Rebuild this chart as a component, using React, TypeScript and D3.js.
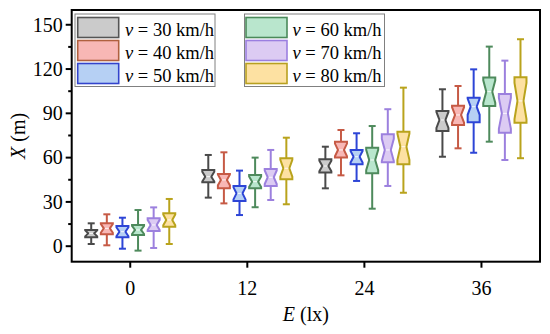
import React from 'react'
import * as d3 from 'd3'

// illuminance levels on the x axis
const illuminance = [0, 12, 24, 36]
const speeds = [30, 40, 50, 60, 70, 80]

// [lower whisker, q1, median, q3, upper whisker] for E = 0, 12, 24, 36
const v30 = [[1.5, 6.0, 8.7, 11.0, 15.5], [32.9, 43.3, 47.1, 51.6, 61.8], [39.2, 50.0, 54.3, 58.9, 67.4], [60.6, 78.0, 85.5, 91.6, 106.3]]
const v40 = [[0.6, 8.1, 12.1, 15.5, 21.6], [29.0, 39.2, 44.9, 48.9, 63.6], [48.0, 60.0, 65.2, 70.8, 78.7], [66.3, 82.1, 88.9, 95.2, 108.5]]
const v50 = [[-1.7, 6.0, 9.8, 13.7, 19.3], [21.1, 30.6, 35.8, 40.8, 51.2], [44.2, 55.5, 60.6, 65.2, 76.5], [63.3, 83.9, 94.5, 100.6, 119.8]]
const v60 = [[-3.0, 7.6, 11.0, 14.4, 24.5], [26.4, 39.2, 43.7, 48.2, 60.0], [25.4, 49.4, 58.4, 66.7, 81.4], [70.8, 95.0, 104.7, 114.2, 135.2]]
const v70 = [[-1.2, 10.3, 14.4, 18.9, 26.3], [31.3, 40.8, 46.7, 52.3, 65.2], [40.8, 56.8, 65.2, 75.8, 92.8], [58.4, 76.9, 90.0, 103.1, 125.7]]
const v80 = [[1.5, 13.2, 17.8, 22.3, 32.0], [28.4, 45.3, 52.8, 59.6, 73.5], [36.2, 55.5, 67.4, 77.6, 107.4], [59.6, 83.7, 98.4, 114.4, 140.2]]
const seriesStats = [v30, v40, v50, v60, v70, v80]

const yTicks = [0, 30, 60, 90, 120, 150]
const yMinorTicks = [15, 45, 75, 105, 135]

const fills = ['#cbcbcb', '#f8b7b5', '#b6d0f4', '#b9e6cd', '#dccbf3', '#fde1a2']
const strokes = ['#4a4a4a', '#c65a45', '#2d45d6', '#4e8a5c', '#9c80de', '#b9a31c']
const legendStrokes = ['#555555', '#b0603f', '#3344cc', '#4a8a5a', '#9b7fe0', '#b8a020']

const W = 550
const H = 334
const left = 71.7
const right = 540
const top = 10
const bottom = 261.7
const font = '"Liberation Serif", "Times New Roman", serif'

export default function App() {
  const x = d3.scaleLinear().domain([-6, 42]).range([left, right])
  const y = d3.scaleLinear().domain([-10.5, 160]).range([bottom, top])

  const boxW = 12
  const capW = 7
  const step = 1.6 // offset between speeds, in lx units

  const boxes = []
  seriesStats.forEach((stats, si) => {
    stats.forEach((s, gi) => {
      const [lo, q1, med, q3, hi] = s
      const cx = x(illuminance[gi] + (si - 2.5) * step)
      const x0 = cx - boxW / 2
      const x1 = cx + boxW / 2
      const nd = boxW * 0.25
      const iqr = q3 - q1
      const nh = Math.min(0.4 * iqr, 0.9 * (med - q1), 0.9 * (q3 - med))
      const p = d3.path()
      p.moveTo(x0, y(q3))
      p.lineTo(x1, y(q3))
      p.lineTo(x1, y(med + nh))
      p.lineTo(x1 - nd, y(med))
      p.lineTo(x1, y(med - nh))
      p.lineTo(x1, y(q1))
      p.lineTo(x0, y(q1))
      p.lineTo(x0, y(med - nh))
      p.lineTo(x0 + nd, y(med))
      p.lineTo(x0, y(med + nh))
      p.closePath()
      const c = strokes[si]
      boxes.push(
        <g key={si + '-' + gi}>
          <line x1={cx} x2={cx} y1={y(hi)} y2={y(q3)} stroke={c} strokeWidth={2} />
          <line x1={cx} x2={cx} y1={y(q1)} y2={y(lo)} stroke={c} strokeWidth={2} />
          <line x1={cx - capW / 2} x2={cx + capW / 2} y1={y(hi)} y2={y(hi)} stroke={c} strokeWidth={2} />
          <line x1={cx - capW / 2} x2={cx + capW / 2} y1={y(lo)} y2={y(lo)} stroke={c} strokeWidth={2} />
          <path d={p.toString()} fill={fills[si]} stroke={c} strokeWidth={2} strokeLinejoin="miter" />
          <line x1={x0 + nd + 1} x2={x1 - nd - 1} y1={y(med)} y2={y(med)} stroke="#ffffff" strokeWidth={1} opacity={0.9} />
        </g>
      )
    })
  })

  // legend: two columns of three
  const legendCols = [
    { bx: 75, sx: 77.7, tx: 125, bw: 140 },
    { bx: 244.5, sx: 246, tx: 292.5, bw: 140 },
  ]

  return (
    <svg width={W} height={H} style={{ position: 'absolute', left: 0, top: 0, background: '#fff' }} fontFamily={font}>
      {boxes}

      {/* frame */}
      <rect x={left} y={top} width={right - left} height={bottom - top} fill="none" stroke="#000" strokeWidth={2} />

      {/* y ticks */}
      {yTicks.map((t) => (
        <g key={'y' + t}>
          <line x1={left - 6} x2={left} y1={y(t)} y2={y(t)} stroke="#000" strokeWidth={2} />
          <text x={left - 9} y={y(t)} dy="0.34em" textAnchor="end" fontSize={20}>{t}</text>
        </g>
      ))}
      {yMinorTicks.map((t) => (
        <line key={'ym' + t} x1={left - 3.5} x2={left} y1={y(t)} y2={y(t)} stroke="#000" strokeWidth={2} />
      ))}

      {/* x ticks */}
      {illuminance.map((t) => (
        <g key={'x' + t}>
          <line x1={x(t)} x2={x(t)} y1={bottom} y2={bottom + 6} stroke="#000" strokeWidth={2} />
          <text x={x(t)} y={295} textAnchor="middle" fontSize={20}>{t}</text>
        </g>
      ))}

      {/* axis titles */}
      <text x={(left + right) / 2} y={321} textAnchor="middle" fontSize={20}>
        <tspan fontStyle="italic">E</tspan> (lx)
      </text>
      <text transform={`translate(25,${(top + bottom) / 2}) rotate(-90)`} textAnchor="middle" fontSize={20}>
        <tspan fontStyle="italic">X</tspan> (m)
      </text>

      {/* legend */}
      {legendCols.map((col, ci) => (
        <g key={'lc' + ci}>
          <rect x={col.bx} y={14} width={col.bw} height={72.5} fill="#fff" stroke="#808080" strokeWidth={1} />
          {speeds.slice(ci * 3, ci * 3 + 3).map((v, ri) => {
            const si = ci * 3 + ri
            const yy = 17.5 + ri * 23
            return (
              <g key={'l' + v}>
                <rect x={col.sx} y={yy} width={41} height={20} fill={fills[si]} stroke={legendStrokes[si]} strokeWidth={1.6} />
                <text x={col.tx} y={yy + 18} fontSize={18.5}>
                  <tspan fontStyle="italic">v</tspan> = {v} km/h
                </text>
              </g>
            )
          })}
        </g>
      ))}
    </svg>
  )
}
